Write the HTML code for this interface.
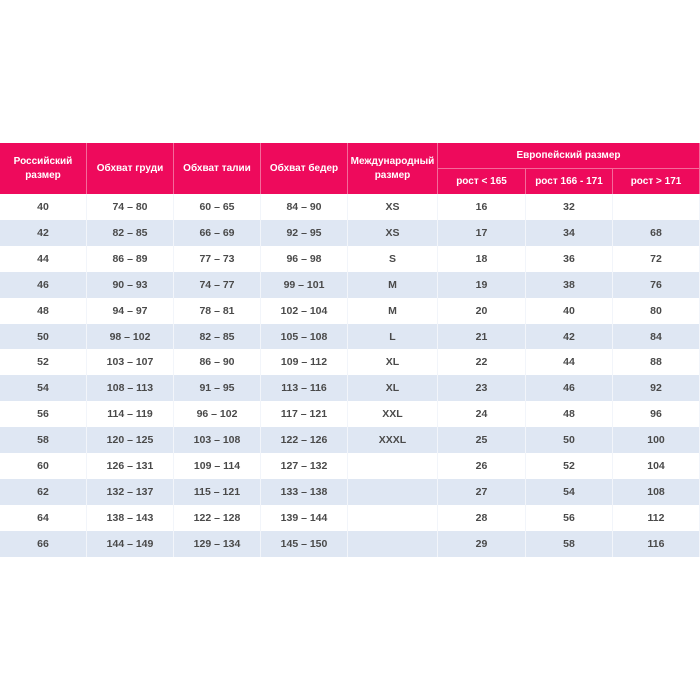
<!DOCTYPE html><html><head><style>
body{margin:0;width:700px;height:700px;background:#fff;position:relative;font-family:"Liberation Sans",sans-serif;overflow:hidden}
.c{position:absolute;display:flex;align-items:center;justify-content:center;text-align:center;box-sizing:border-box;font-weight:bold}
.h{background:#ee0a5c;color:#fff;font-size:10px;line-height:14px;border-right:1px solid #f46a9a}
.b{color:#4a4a4a;font-size:10.5px;border-right:1px solid #f2f5fa}
</style></head><body>
<div id="t"></div>
<script>
var X=[0,87,174,261,348,438,526,613,700];
var out='';
function cell(x,y,w,h,cls,t,bg){out+='<div class="c '+cls+'" style="left:'+x+'px;top:'+y+'px;width:'+w+'px;height:'+h+'px;'+(bg?'background:'+bg:'')+'">'+t+'</div>';}
var H=['Российский<br>размер','Обхват груди','Обхват талии','Обхват бедер','Международный<br>размер'];
for(var i=0;i<5;i++)cell(X[i],143,X[i+1]-X[i],51,'h',H[i]);
cell(438,143,262,25,'h','Европейский размер');
out+='<div style="position:absolute;left:438px;top:168px;width:262px;height:1px;background:#f46a9a"></div>';
var E=['рост &lt; 165','рост 166 - 171','рост &gt; 171'];
for(var i=0;i<3;i++)cell(X[5+i],169,X[6+i]-X[5+i],25,'h',E[i]);
var R=[['40','74 – 80','60 – 65','84 – 90','XS','16','32',''],
['42','82 – 85','66 – 69','92 – 95','XS','17','34','68'],
['44','86 – 89','77 – 73','96 – 98','S','18','36','72'],
['46','90 – 93','74 – 77','99 – 101','M','19','38','76'],
['48','94 – 97','78 – 81','102 – 104','M','20','40','80'],
['50','98 – 102','82 – 85','105 – 108','L','21','42','84'],
['52','103 – 107','86 – 90','109 – 112','XL','22','44','88'],
['54','108 – 113','91 – 95','113 – 116','XL','23','46','92'],
['56','114 – 119','96 – 102','117 – 121','XXL','24','48','96'],
['58','120 – 125','103 – 108','122 – 126','XXXL','25','50','100'],
['60','126 – 131','109 – 114','127 – 132','','26','52','104'],
['62','132 – 137','115 – 121','133 – 138','','27','54','108'],
['64','138 – 143','122 – 128','139 – 144','','28','56','112'],
['66','144 – 149','129 – 134','145 – 150','','29','58','116']];
for(var r=0;r<14;r++){var y=194+r*25.9;var bg=r%2?'#dfe7f3':'#fff';
for(var i=0;i<8;i++)cell(X[i],y,X[i+1]-X[i],26,'b',R[r][i],bg);}
document.getElementById('t').innerHTML=out;
</script>
</body></html>
